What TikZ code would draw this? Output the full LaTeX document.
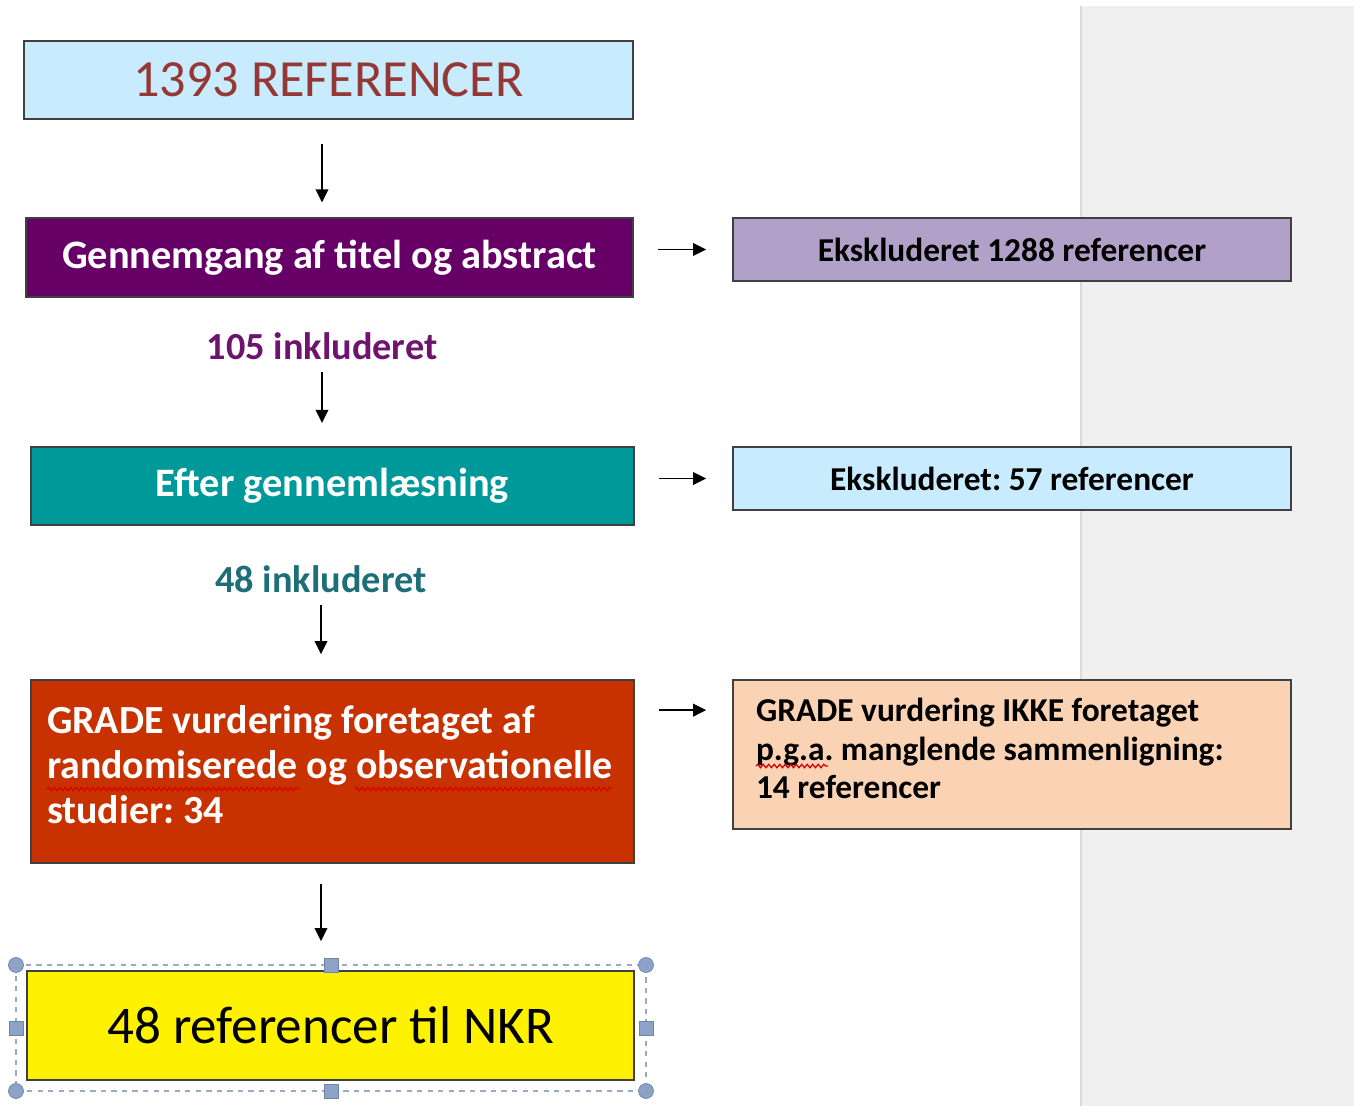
\documentclass[tikz,border=0pt]{standalone}
\usepackage{fontspec}
\setmainfont{Carlito}
\usetikzlibrary{arrows.meta,decorations.pathmorphing}
\definecolor{skyfill}{RGB}{200,235,253}
\definecolor{toptext}{RGB}{149,55,53}
\definecolor{plum}{RGB}{102,0,102}
\definecolor{lilac}{RGB}{177,160,199}
\definecolor{tealfill}{RGB}{0,153,153}
\definecolor{rustfill}{RGB}{200,50,0}
\definecolor{peach}{RGB}{250,210,180}
\definecolor{plumtext}{RGB}{110,20,110}
\definecolor{tealtext}{RGB}{30,110,120}
\definecolor{panel}{RGB}{240,240,240}
\definecolor{panelline}{RGB}{218,218,218}
\definecolor{handle}{RGB}{140,162,198}
\definecolor{handleline}{RGB}{110,134,174}
\tikzset{
  box/.style={draw=black!75,line width=1pt,inner sep=0pt},
  mainbox/.style={box,minimum width=12.06cm,minimum height=1.57cm,text=white,font=\fontsize{23}{26}\selectfont\bfseries},
  sidebox/.style={box,minimum width=11.16cm,minimum height=1.26cm,font=\fontsize{19}{22}\selectfont\bfseries},
  countlabel/.style={font=\fontsize{21.8}{24}\selectfont\bfseries},
  flow/.style={-{Triangle[length=0.26cm,width=0.25cm]},line width=1.1pt},
  handledot/.style={circle,fill=handle,draw=handleline,minimum size=0.3cm,inner sep=0pt},
  handlesq/.style={rectangle,fill=handle,draw=handleline,minimum size=0.28cm,inner sep=0pt},
  squiggle/.style={red!85!black,line width=0.7pt,decorate,decoration={snake,amplitude=0.035cm,segment length=0.11cm}}
}
\frenchspacing
\begin{document}
\begin{tikzpicture}[x=0.02cm,y=-0.02cm]
    \useasboundingbox (0,0) rectangle (1354,1106);
    % grey panel on the right
    \fill[panel] (1081,6) rectangle (1354,1106);
    \draw[panelline,line width=1pt] (1081,6) -- (1081,1106);
    % left column
    \node[box,fill=skyfill,minimum width=12.18cm,minimum height=1.56cm,text=toptext,font=\fontsize{29.7}{34}\selectfont] at (328.5,80) (refs) {1393 REFERENCER};
    \node[mainbox,fill=plum,minimum width=12.14cm] at (329.5,257.5) (screen) {Gennemgang af titel og abstract};
    \node[countlabel,text=plumtext] at (322,346) (inc1) {105 inkluderet};
    \node[mainbox,fill=tealfill] at (332.5,486) (fulltext) {Efter gennemlæsning};
    \node[countlabel,text=tealtext] at (321,579) (inc2) {48 inkluderet};
    \node[mainbox,fill=rustfill,minimum height=3.66cm,align=flush left,text width=11.42cm,inner xsep=0.32cm,font=\fontsize{22.7}{25.8}\selectfont\bfseries] at (332.5,771.5) (grade) {GRADE vurdering foretaget af\\randomiserede og observationelle\\studier: 34\par\vspace*{0.28cm}};
    \node[box,fill=yellow,minimum width=12.14cm,minimum height=2.18cm,font=\fontsize{30.2}{34}\selectfont] at (330.5,1025.5) (nkr) {48 referencer til NKR};
    % right column
    \node[sidebox,fill=lilac] at (1012,249.5) (excl1) {Ekskluderet 1288 referencer};
    \node[sidebox,fill=skyfill] at (1012,478.5) (excl2) {Ekskluderet: 57 referencer};
    \node[sidebox,fill=peach,minimum height=2.98cm,inner xsep=0.46cm,font=\fontsize{19}{21.8}\selectfont\bfseries] at (1012,754.5) (nograde) {\parbox[c][2.98cm][t]{10.24cm}{\raggedright\vspace*{0.37cm}GRADE vurdering IKKE foretaget\\p.g.a. manglende sammenligning:\\14 referencer}};
    % spelling marks
    \draw[squiggle] (47,789) -- (300,789);
    \draw[squiggle] (355,789) -- (612,789);
    \draw[squiggle] (756,766) -- (828,766);
    % selection frame
    \draw[handleline!70,dashed,line width=0.8pt] (16,965) rectangle (646,1091);
    \node[handledot] at (16,965) (h1) {};
    \node[handledot] at (646,965) (h2) {};
    \node[handledot] at (16,1091) (h3) {};
    \node[handledot] at (646,1091) (h4) {};
    \node[handlesq] at (331,965) (h5) {};
    \node[handlesq] at (331,1091) (h6) {};
    \node[handlesq] at (16,1028) (h7) {};
    \node[handlesq] at (646,1028) (h8) {};
    % arrows
    \draw[flow,shorten <=0.48cm,shorten >=0.3cm] (refs.south -| inc1) -- (screen.north -| inc1);
    \draw[flow,shorten <=0.12cm,shorten >=0.46cm] (inc1.south) -- (fulltext.north -| inc1);
    \draw[flow,shorten <=0.12cm,shorten >=0.5cm] (inc2.south) -- (grade.north -| inc2);
    \draw[flow,shorten <=0.4cm,shorten >=0.58cm] (grade.south -| inc2) -- (nkr.north -| inc2);
    \draw[flow,shorten <=0.48cm,shorten >=0.52cm] (screen.east |- excl1.west) -- (excl1.west);
    \draw[flow,shorten <=0.48cm,shorten >=0.52cm] (fulltext.east |- excl2.west) -- (excl2.west);
    \draw[flow,shorten <=0.48cm,shorten >=0.52cm] ([yshift=-0.62cm]grade.north east) -- ([yshift=-0.62cm]grade.north east -| nograde.west);
\end{tikzpicture}
\end{document}
